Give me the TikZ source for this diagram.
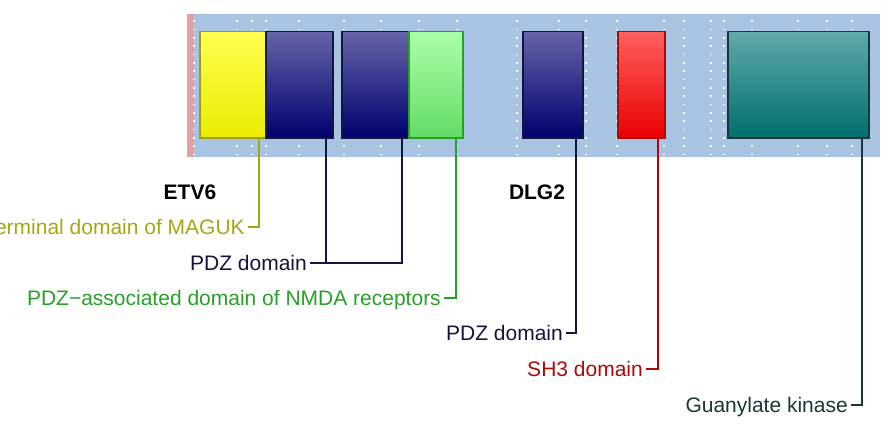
\documentclass[tikz,border=0pt]{standalone}
\usepackage{fontspec}
\setmainfont{Liberation Sans}
\definecolor{barblue}{RGB}{169,196,227}
\definecolor{barpink}{RGB}{228,160,160}
\definecolor{olv}{RGB}{166,166,20}
\definecolor{nvy}{RGB}{20,20,60}
\definecolor{grn}{RGB}{40,160,40}
\definecolor{rdd}{RGB}{170,10,10}
\definecolor{tld}{RGB}{25,55,55}
\tikzset{
  dom/.style={shape=rectangle,draw,line width=1.5pt,minimum height=106.5pt,inner sep=0pt},
  lbl/.style={anchor=east,inner sep=3pt,text height=15pt,text depth=0pt,font=\fontsize{21}{25}\selectfont},
  gridl/.style={white,line width=1.5pt,dash pattern=on 1.5pt off 6.83pt},
  conn/.style={line width=2pt}
}
\begin{document}
\begin{tikzpicture}[x=1pt,y=-1pt]
\useasboundingbox (0,0) rectangle (888,430);
\clip (0,0) rectangle (888,430);
% protein bar
\fill[barblue] (187,14) rectangle (880,157);
\fill[barpink] (187,14) rectangle (194,157);
\foreach \gx in {194,237,252,266,299,344,381,419,457,517,559,586,617,664,684,711,724,752,798,827,852}
  \draw[gridl] (\gx,20.5) -- (\gx,155);
% domains
\node[dom,draw=olv!95!black,top color={rgb,255:red,255;green,255;blue,80},bottom color={rgb,255:red,235;green,235;blue,0},minimum width=66pt](Y) at (233,84.75){};
\node[dom,draw=nvy,top color={rgb,255:red,100;green,100;blue,170},bottom color={rgb,255:red,0;green,0;blue,110},minimum width=67pt](B1) at (299.5,84.75){};
\node[dom,draw=nvy,top color={rgb,255:red,100;green,100;blue,170},bottom color={rgb,255:red,0;green,0;blue,110},minimum width=67pt](B2) at (375.5,84.75){};
\node[dom,draw=grn,top color={rgb,255:red,170;green,255;blue,170},bottom color={rgb,255:red,100;green,220;blue,100},minimum width=54pt](G) at (436,84.75){};
\node[dom,draw=nvy,top color={rgb,255:red,100;green,100;blue,170},bottom color={rgb,255:red,0;green,0;blue,110},minimum width=60pt](B3) at (553,84.75){};
\node[dom,draw=rdd,top color={rgb,255:red,255;green,95;blue,95},bottom color={rgb,255:red,235;green,0;blue,0},minimum width=47pt](R) at (641.5,84.75){};
\node[dom,draw=tld,top color={rgb,255:red,95;green,170;blue,170},bottom color={rgb,255:red,0;green,110;blue,110},minimum width=141pt](T) at (798.5,84.75){};
% gene names
\node[lbl,anchor=center,font=\fontsize{21}{25}\selectfont\bfseries](ETV) at (190,192){ETV6};
\node[lbl,anchor=center,font=\fontsize{21}{25}\selectfont\bfseries](DLG) at (537,192){DLG2};
% labels
\node[lbl,text=olv](lMAGUK) at (248,227.5){N−terminal domain of MAGUK};
\node[lbl,text=nvy](lPDZa) at (310,262.5){PDZ domain};
\node[lbl,text=grn](lNMDA) at (444,298){PDZ−associated domain of NMDA receptors};
\node[lbl,text=nvy](lPDZb) at (566,333){PDZ domain};
\node[lbl,text=rdd](lSH3) at (646,369){SH3 domain};
\node[lbl,text=tld](lGK) at (851,405){Guanylate kinase};
% connectors
\draw[conn,olv] (Y.south east) ++(-7.5,0) |- (lMAGUK.east);
\draw[conn,nvy] (B1.south east) ++(-7.5,0) |- (lPDZa.east);
\draw[conn,nvy] (B2.south east) ++(-7.5,0) |- (lPDZa.east);
\draw[conn,grn] (G.south east) ++(-7.5,0) |- (lNMDA.east);
\draw[conn,nvy] (B3.south east) ++(-7.5,0) |- (lPDZb.east);
\draw[conn,rdd] (R.south east) ++(-7.5,0) |- (lSH3.east);
\draw[conn,tld] (T.south east) ++(-7.5,0) |- (lGK.east);
\end{tikzpicture}
\end{document}
